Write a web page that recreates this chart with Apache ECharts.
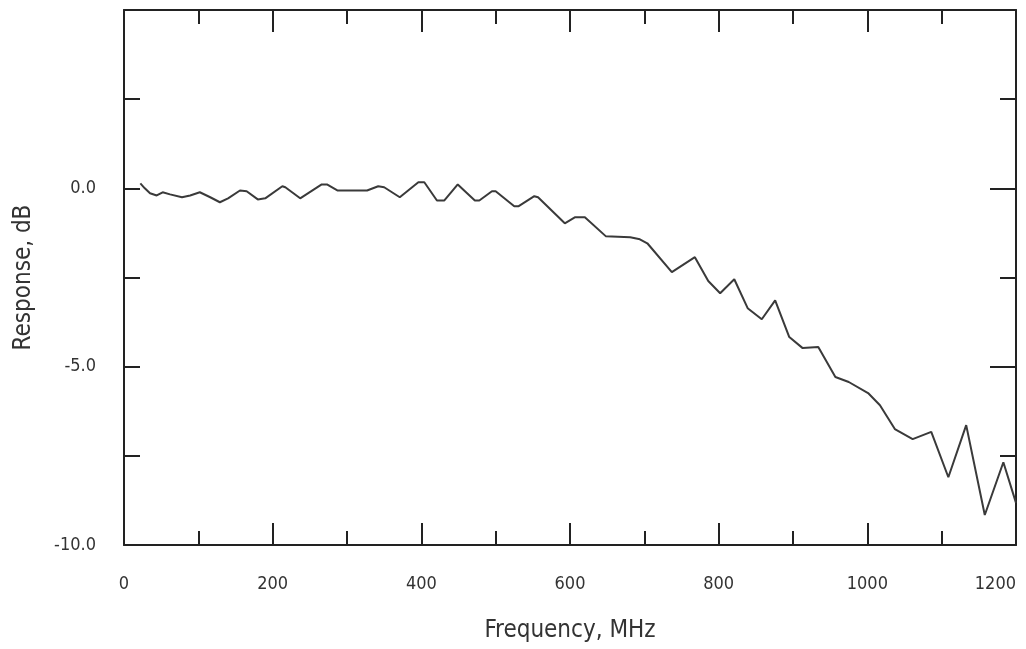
<!DOCTYPE html>
<html>
<head>
<meta charset="utf-8">
<title>Frequency response</title>
<script src="https://cdn.jsdelivr.net/npm/echarts@6/dist/echarts.min.js"></script>
<style>
  html, body { margin: 0; padding: 0; background: #fff; }
  #chart { width: 1026px; height: 649px; }
</style>
</head>
<body>
<div id="chart"></div>
<script>
// values
var freqMHz = [22, 28, 35, 44, 52, 62, 78, 89, 102, 116, 129, 140, 156, 165, 180, 190, 213, 217, 237, 266,
  273, 287, 327, 342, 350, 371, 396, 404, 421, 431, 449, 472, 478, 495, 500, 525, 531, 552, 557, 593,
  607, 620, 648, 681, 694, 704, 737, 768, 786, 802, 821, 839, 858, 876, 895, 913, 934, 957, 975, 1001,
  1017, 1037, 1061, 1086, 1109, 1133, 1158, 1183, 1200]
var responseDb = [0.14, 0, -0.14, -0.2, -0.11, -0.17, -0.25, -0.2, -0.11, -0.25, -0.39, -0.28, -0.06, -0.08, -0.31, -0.28, 0.06, 0.03, -0.28, 0.11,
  0.11, -0.06, -0.06, 0.06, 0.03, -0.25, 0.17, 0.17, -0.34, -0.34, 0.11, -0.34, -0.34, -0.08, -0.08, -0.5, -0.5, -0.22, -0.25, -0.98,
  -0.81, -0.81, -1.34, -1.37, -1.43, -1.54, -2.35, -1.93, -2.6, -2.94, -2.55, -3.36, -3.67, -3.14, -4.17, -4.48, -4.45, -5.29, -5.43, -5.74,
  -6.08, -6.75, -7.03, -6.83, -8.1, -6.64, -9.16, -7.68, -8.82]
var xTickLabels = ['0', '200', '400', '600', '800', '1000', '1200']
var yTickLabels = ['-10.0', '-5.0', '0.0']

var font = "'Liberation Sans Narrow', 'DejaVu Sans Condensed', 'Liberation Sans', sans-serif"
var frame = { show: true, onZero: false, lineStyle: { color: '#222', width: 2 } }

function xAxisDef(pos, withLabels) {
  return {
    type: 'value',
    position: pos,
    min: 0,
    max: 1200,
    interval: 200,
    name: withLabels ? 'Frequency, MHz' : '',
    nameLocation: 'middle',
    nameGap: 74,
    nameTextStyle: { color: '#333', fontSize: 24, fontFamily: font },
    axisLine: frame,
    axisTick: { show: true, inside: true, length: 22, lineStyle: { color: '#222', width: 2 } },
    minorTick: { show: true, splitNumber: 2, length: 14, lineStyle: { color: '#222', width: 2 } },
    axisLabel: {
      show: withLabels,
      margin: 30,
      color: '#333',
      fontSize: 18,
      fontFamily: font,
      alignMaxLabel: 'right',
      formatter: function (v) {
        var s = String(v)
        return xTickLabels.indexOf(s) >= 0 ? s : ''
      },
    },
    splitLine: { show: false },
  }
}

var option = {
  animation: false,
  backgroundColor: '#fff',
  grid: { left: 124, right: 10, top: 10, bottom: 104, outerBoundsMode: 'none' },
  xAxis: [xAxisDef('bottom', true), xAxisDef('top', false)],
  yAxis: [
    {
      type: 'value',
      position: 'left',
      min: -10,
      max: 5,
      interval: 2.5,
      name: 'Response, dB',
      nameLocation: 'middle',
      nameGap: 88,
      nameTextStyle: { color: '#333', fontSize: 24, fontFamily: font },
      axisLine: frame,
      axisTick: { show: true, inside: true, length: 16, lineStyle: { color: '#222', width: 2 } },
      axisLabel: {
        margin: 28,
        color: '#333',
        fontSize: 18,
        fontFamily: font,
        formatter: function (v) {
          var s = v.toFixed(1)
          return yTickLabels.indexOf(s) >= 0 ? s : ''
        },
      },
      splitLine: { show: false },
    },
    {
      type: 'value',
      position: 'right',
      min: -10,
      max: 5,
      interval: 5,
      axisLine: frame,
      axisTick: { show: true, inside: true, length: 26, lineStyle: { color: '#222', width: 2 } },
      minorTick: { show: true, splitNumber: 2, length: 16, lineStyle: { color: '#222', width: 2 } },
      axisLabel: { show: false },
      splitLine: { show: false },
    },
  ],
  series: [
    {
      type: 'line',
      xAxisIndex: 0,
      yAxisIndex: 0,
      showSymbol: false,
      smooth: false,
      lineStyle: { color: '#3a3a3a', width: 2 },
      data: freqMHz.map(function (f, i) { return [f, responseDb[i]] }),
    },
  ],
}

var myChart = echarts.init(document.getElementById('chart'))
myChart.setOption(option)
</script>
</body>
</html>
